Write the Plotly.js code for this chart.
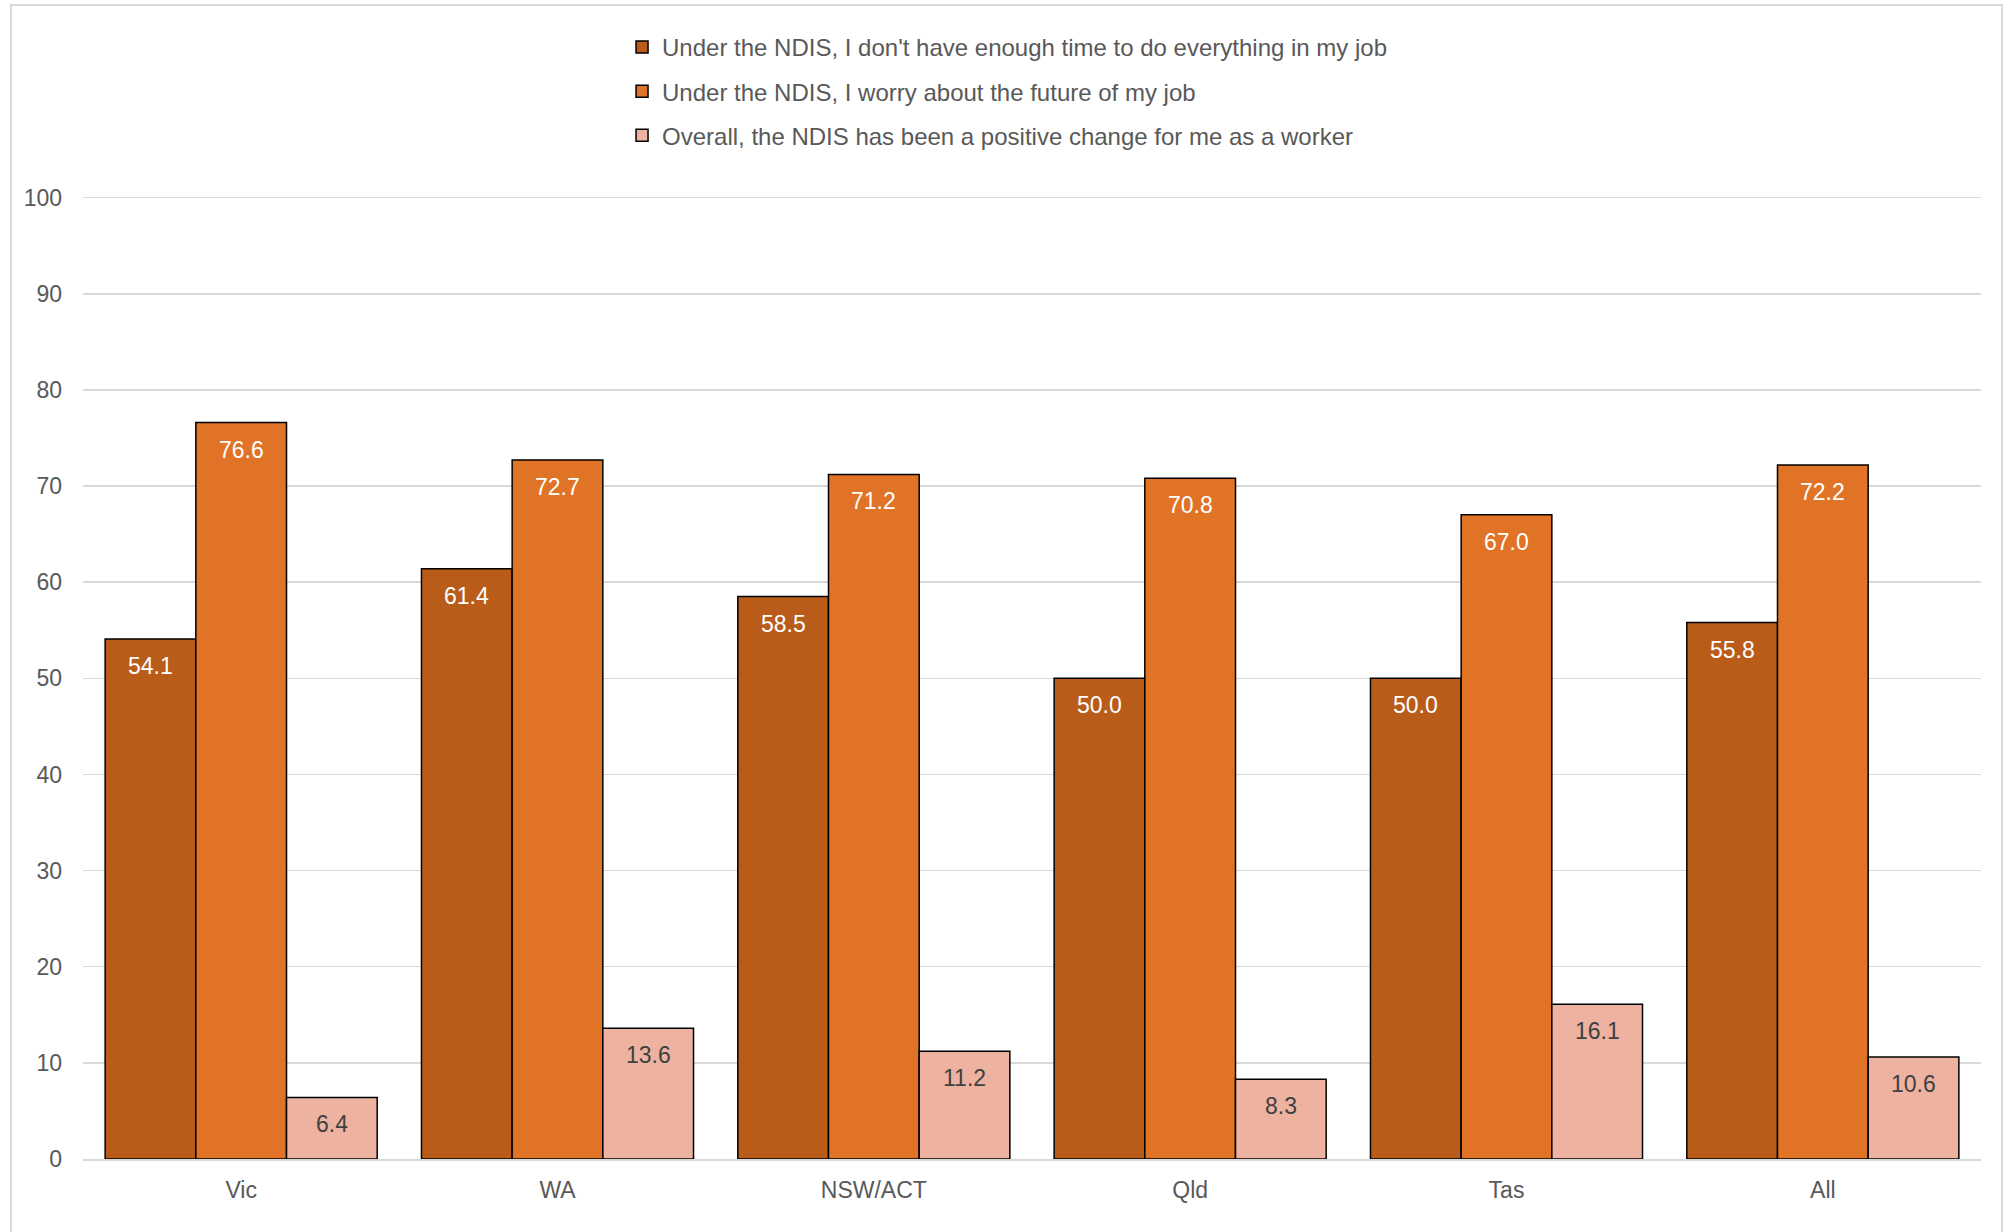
<!DOCTYPE html>
<html>
<head>
<meta charset="utf-8">
<script src="https://cdn.plot.ly/plotly-3.0.1.min.js"></script>
<style>
  html, body { margin: 0; padding: 0; background: #ffffff; }
  #frame { position: absolute; left: 10px; top: 4px; width: 1993px; height: 1300px; border: 2px solid #d9d9d9; box-sizing: border-box; }
  #chart { position: absolute; left: 0; top: 0; width: 2011px; height: 1232px; }
</style>
</head>
<body>
<div id="frame"></div>
<div id="chart"></div>
<script>
const categories = ["Vic", "WA", "NSW/ACT", "Qld", "Tas", "All"];
const seriesNames = [
  "Under the NDIS, I don't have enough time to do everything in my job",
  "Under the NDIS, I worry about the future of my job",
  "Overall, the NDIS has been a positive change for me as a worker"
];
const notEnoughTime = [54.1, 61.4, 58.5, 50.0, 50.0, 55.8];
const worryFuture = [76.6, 72.7, 71.2, 70.8, 67.0, 72.2];
const positiveChange = [6.4, 13.6, 11.2, 8.3, 16.1, 10.6];
const yTicks = [0, 10, 20, 30, 40, 50, 60, 70, 80, 90, 100];

const colors = ["#B95C1A", "#E07325", "#EDB3A0"];
const labelColors = ["#ffffff", "#ffffff", "#404040"];
const seriesValues = [notEnoughTime, worryFuture, positiveChange];
const bargap = 0.14;

const traces = seriesValues.map((vals, j) => ({
  type: "bar",
  name: seriesNames[j],
  x: categories,
  y: vals,
  legendgroup: "g" + j,
  marker: { color: colors[j], line: { color: "#000000", width: 1.5 } },
  hoverinfo: "x+y+name"
}));

const barW = (1 - bargap) / seriesValues.length;
const annotations = [];
seriesValues.forEach((vals, j) => {
  vals.forEach((v, i) => {
    annotations.push({
      x: i + (j - (seriesValues.length - 1) / 2) * barW,
      y: v,
      xref: "x", yref: "y",
      text: v.toFixed(1),
      showarrow: false,
      yanchor: "middle",
      yshift: -27,
      font: { family: "Liberation Sans, Arial, sans-serif", size: 23, color: labelColors[j] }
    });
  });
});

const layout = {
  width: 2011,
  height: 1232,
  paper_bgcolor: "rgba(0,0,0,0)",
  plot_bgcolor: "rgba(0,0,0,0)",
  margin: { l: 83, r: 30, t: 188, b: 73 },
  font: { family: "Liberation Sans, Arial, sans-serif", color: "#595959" },
  barmode: "group",
  bargap: bargap,
  bargroupgap: 0,
  showlegend: true,
  legend: {
    orientation: "v",
    x: 0.284, xanchor: "left",
    y: 1.168, yanchor: "top",
    font: { size: 24, color: "#595959" },
    tracegroupgap: 10,
    traceorder: "grouped",
    bgcolor: "rgba(0,0,0,0)"
  },
  xaxis: {
    type: "category",
    tickfont: { size: 23, color: "#595959" },
    showline: true,
    linecolor: "#d9d9d9",
    linewidth: 1.5,
    ticks: "",
    ticklabelstandoff: 10,
    showgrid: false
  },
  yaxis: {
    range: [0, 101],
    tickvals: yTicks,
    ticktext: yTicks.map(String),
    tickfont: { size: 23, color: "#595959" },
    showgrid: true,
    gridcolor: "#d9d9d9",
    gridwidth: 1.5,
    zeroline: false,
    showline: false,
    ticks: "",
    ticklabelstandoff: 20
  },
  annotations: annotations
};

Plotly.newPlot("chart", traces, layout, { displayModeBar: false, staticPlot: true });
</script>
</body>
</html>
